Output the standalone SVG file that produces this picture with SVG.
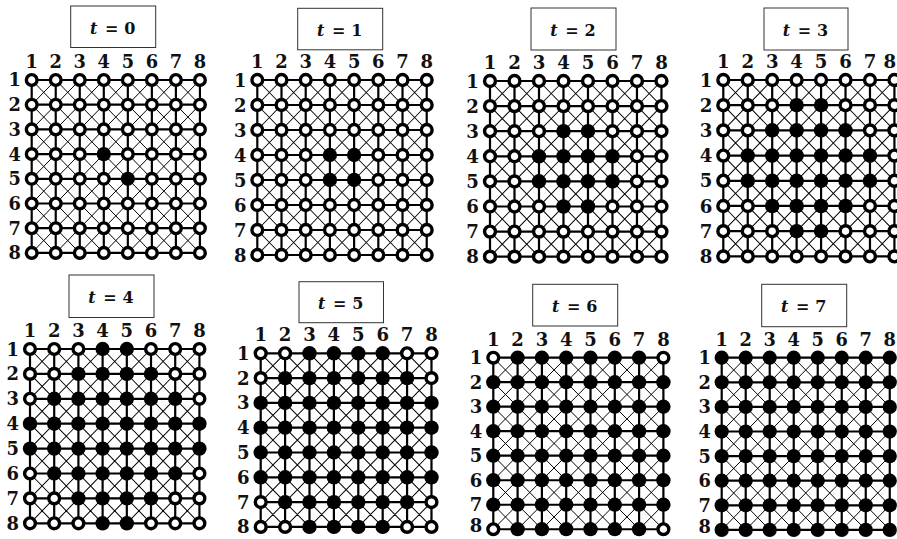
<svg xmlns="http://www.w3.org/2000/svg" width="897" height="539" viewBox="0 0 897 539">
<style>
.lbl{font-family:"DejaVu Serif","Liberation Serif",serif;font-weight:bold;font-size:18px;fill:#111}
.cl{text-anchor:middle}
.rl{text-anchor:end}
.tt{font-family:"DejaVu Serif","Liberation Serif",serif;font-weight:bold;font-size:16px;fill:#111;text-anchor:middle}
.box{fill:#fff;stroke:#333;stroke-width:1}
.thick{fill:none;stroke:#000;stroke-width:2.2}
.thin{fill:none;stroke:#000;stroke-width:1}
</style>
<defs>
<circle id="o" r="5.4" fill="#fff" stroke="#000" stroke-width="3.4"/>
<circle id="f" r="7.2" fill="#000"/>
<g id="grid">
<path class="thin" d="M0 0L170.1 173.95M24.3 0L170.1 149.1M48.6 0L170.1 124.25M72.9 0L170.1 99.4M97.2 0L170.1 74.55M121.5 0L170.1 49.7M145.8 0L170.1 24.85M0 24.85L145.8 173.95M0 49.7L121.5 173.95M0 74.55L97.2 173.95M0 99.4L72.9 173.95M0 124.25L48.6 173.95M0 149.1L24.3 173.95M24.3 0L0 24.85M48.6 0L0 49.7M72.9 0L0 74.55M97.2 0L0 99.4M121.5 0L0 124.25M145.8 0L0 149.1M170.1 0L0 173.95M170.1 24.85L24.3 173.95M170.1 49.7L48.6 173.95M170.1 74.55L72.9 173.95M170.1 99.4L97.2 173.95M170.1 124.25L121.5 173.95M170.1 149.1L145.8 173.95"/>
<path class="thick" d="M0 0H170.1M0 24.85H170.1M0 49.7H170.1M0 74.55H170.1M0 99.4H170.1M0 124.25H170.1M0 149.1H170.1M0 173.95H170.1M0 0V173.95M24.3 0V173.95M48.6 0V173.95M72.9 0V173.95M97.2 0V173.95M121.5 0V173.95M145.8 0V173.95M170.1 0V173.95"/>
</g>
</defs>
<rect width="897" height="539" fill="#fff"/>

<g id="titles">
<g id="title-t0"><rect class="box" x="70.7" y="6" width="85" height="41.5"/><text class="tt" y="33.5"><tspan x="93.7" font-style="italic">t</tspan><tspan x="111.7">=</tspan><tspan x="129.7">0</tspan></text></g>
<g id="title-t1"><rect class="box" x="297.7" y="8.3" width="85" height="41.5"/><text class="tt" y="35.8"><tspan x="320.7" font-style="italic">t</tspan><tspan x="338.7">=</tspan><tspan x="356.7">1</tspan></text></g>
<g id="title-t2"><rect class="box" x="531" y="8" width="85" height="42"/><text class="tt" y="35.8"><tspan x="554" font-style="italic">t</tspan><tspan x="572">=</tspan><tspan x="590">2</tspan></text></g>
<g id="title-t3"><rect class="box" x="764" y="8" width="84" height="42"/><text class="tt" y="35.8"><tspan x="786.5" font-style="italic">t</tspan><tspan x="804.5">=</tspan><tspan x="822.5">3</tspan></text></g>
<g id="title-t4"><rect class="box" x="69" y="275" width="85" height="42.5"/><text class="tt" y="302.8"><tspan x="92" font-style="italic">t</tspan><tspan x="110">=</tspan><tspan x="128">4</tspan></text></g>
<g id="title-t5"><rect class="box" x="299" y="281.7" width="84.5" height="41"/><text class="tt" y="309"><tspan x="321.8" font-style="italic">t</tspan><tspan x="339.8">=</tspan><tspan x="357.8">5</tspan></text></g>
<g id="title-t6"><rect class="box" x="532.7" y="284.3" width="85" height="41.7"/><text class="tt" y="311.8"><tspan x="555.7" font-style="italic">t</tspan><tspan x="573.7">=</tspan><tspan x="591.7">6</tspan></text></g>
<g id="title-t7"><rect class="box" x="761.7" y="284.3" width="85" height="42.4"/><text class="tt" y="312"><tspan x="784.7" font-style="italic">t</tspan><tspan x="802.7">=</tspan><tspan x="820.7">7</tspan></text></g>
</g>

<g id="connectors">
<use href="#grid" transform="translate(31.7 80) scale(0.989 0.994)"/>
<use href="#grid" transform="translate(257.3 80) scale(0.996 1.006)"/>
<use href="#grid" transform="translate(490 81) scale(1.008 1.01)"/>
<use href="#grid" transform="translate(723.3 80) scale(1.006 1.014)"/>
<use href="#grid" transform="translate(30 349) scale(0.996 1.002)"/>
<use href="#grid" transform="translate(260.7 353.3) scale(1.004 0.998)"/>
<use href="#grid" transform="translate(493.3 357.7) scale(1 0.986)"/>
<use href="#grid" transform="translate(721.7 357.7) scale(0.988 0.99)"/>
</g>

<g id="panel-t0" transform="translate(31.7 80) scale(0.989 0.994)">
<g transform="translate(0 0)"><g id="t0-r1c1"><use href="#o"/></g><g id="t0-r1c2"><use href="#o" x="24.3"/></g><g id="t0-r1c3"><use href="#o" x="48.6"/></g><g id="t0-r1c4"><use href="#o" x="72.9"/></g><g id="t0-r1c5"><use href="#o" x="97.2"/></g><g id="t0-r1c6"><use href="#o" x="121.5"/></g><g id="t0-r1c7"><use href="#o" x="145.8"/></g><g id="t0-r1c8"><use href="#o" x="170.1"/></g></g>
<g transform="translate(0 24.85)"><g id="t0-r2c1"><use href="#o"/></g><g id="t0-r2c2"><use href="#o" x="24.3"/></g><g id="t0-r2c3"><use href="#o" x="48.6"/></g><g id="t0-r2c4"><use href="#o" x="72.9"/></g><g id="t0-r2c5"><use href="#o" x="97.2"/></g><g id="t0-r2c6"><use href="#o" x="121.5"/></g><g id="t0-r2c7"><use href="#o" x="145.8"/></g><g id="t0-r2c8"><use href="#o" x="170.1"/></g></g>
<g transform="translate(0 49.7)"><g id="t0-r3c1"><use href="#o"/></g><g id="t0-r3c2"><use href="#o" x="24.3"/></g><g id="t0-r3c3"><use href="#o" x="48.6"/></g><g id="t0-r3c4"><use href="#o" x="72.9"/></g><g id="t0-r3c5"><use href="#o" x="97.2"/></g><g id="t0-r3c6"><use href="#o" x="121.5"/></g><g id="t0-r3c7"><use href="#o" x="145.8"/></g><g id="t0-r3c8"><use href="#o" x="170.1"/></g></g>
<g transform="translate(0 74.55)"><g id="t0-r4c1"><use href="#o"/></g><g id="t0-r4c2"><use href="#o" x="24.3"/></g><g id="t0-r4c3"><use href="#o" x="48.6"/></g><g id="t0-r4c4"><use href="#f" x="72.9"/></g><g id="t0-r4c5"><use href="#o" x="97.2"/></g><g id="t0-r4c6"><use href="#o" x="121.5"/></g><g id="t0-r4c7"><use href="#o" x="145.8"/></g><g id="t0-r4c8"><use href="#o" x="170.1"/></g></g>
<g transform="translate(0 99.4)"><g id="t0-r5c1"><use href="#o"/></g><g id="t0-r5c2"><use href="#o" x="24.3"/></g><g id="t0-r5c3"><use href="#o" x="48.6"/></g><g id="t0-r5c4"><use href="#o" x="72.9"/></g><g id="t0-r5c5"><use href="#f" x="97.2"/></g><g id="t0-r5c6"><use href="#o" x="121.5"/></g><g id="t0-r5c7"><use href="#o" x="145.8"/></g><g id="t0-r5c8"><use href="#o" x="170.1"/></g></g>
<g transform="translate(0 124.25)"><g id="t0-r6c1"><use href="#o"/></g><g id="t0-r6c2"><use href="#o" x="24.3"/></g><g id="t0-r6c3"><use href="#o" x="48.6"/></g><g id="t0-r6c4"><use href="#o" x="72.9"/></g><g id="t0-r6c5"><use href="#o" x="97.2"/></g><g id="t0-r6c6"><use href="#o" x="121.5"/></g><g id="t0-r6c7"><use href="#o" x="145.8"/></g><g id="t0-r6c8"><use href="#o" x="170.1"/></g></g>
<g transform="translate(0 149.1)"><g id="t0-r7c1"><use href="#o"/></g><g id="t0-r7c2"><use href="#o" x="24.3"/></g><g id="t0-r7c3"><use href="#o" x="48.6"/></g><g id="t0-r7c4"><use href="#o" x="72.9"/></g><g id="t0-r7c5"><use href="#o" x="97.2"/></g><g id="t0-r7c6"><use href="#o" x="121.5"/></g><g id="t0-r7c7"><use href="#o" x="145.8"/></g><g id="t0-r7c8"><use href="#o" x="170.1"/></g></g>
<g transform="translate(0 173.95)"><g id="t0-r8c1"><use href="#o"/></g><g id="t0-r8c2"><use href="#o" x="24.3"/></g><g id="t0-r8c3"><use href="#o" x="48.6"/></g><g id="t0-r8c4"><use href="#o" x="72.9"/></g><g id="t0-r8c5"><use href="#o" x="97.2"/></g><g id="t0-r8c6"><use href="#o" x="121.5"/></g><g id="t0-r8c7"><use href="#o" x="145.8"/></g><g id="t0-r8c8"><use href="#o" x="170.1"/></g></g>
<g class="lbl"><text class="cl" x="0" y="-12">1</text><text class="cl" x="24.3" y="-12">2</text><text class="cl" x="48.6" y="-12">3</text><text class="cl" x="72.9" y="-12">4</text><text class="cl" x="97.2" y="-12">5</text><text class="cl" x="121.5" y="-12">6</text><text class="cl" x="145.8" y="-12">7</text><text class="cl" x="170.1" y="-12">8</text>
<text class="rl" x="-11" y="6.5">1</text><text class="rl" x="-11" y="31.35">2</text><text class="rl" x="-11" y="56.2">3</text><text class="rl" x="-11" y="81.05">4</text><text class="rl" x="-11" y="105.9">5</text><text class="rl" x="-11" y="130.75">6</text><text class="rl" x="-11" y="155.6">7</text><text class="rl" x="-11" y="180.45">8</text></g>
</g>

<g id="panel-t1" transform="translate(257.3 80) scale(0.996 1.006)">
<g transform="translate(0 0)"><g id="t1-r1c1"><use href="#o"/></g><g id="t1-r1c2"><use href="#o" x="24.3"/></g><g id="t1-r1c3"><use href="#o" x="48.6"/></g><g id="t1-r1c4"><use href="#o" x="72.9"/></g><g id="t1-r1c5"><use href="#o" x="97.2"/></g><g id="t1-r1c6"><use href="#o" x="121.5"/></g><g id="t1-r1c7"><use href="#o" x="145.8"/></g><g id="t1-r1c8"><use href="#o" x="170.1"/></g></g>
<g transform="translate(0 24.85)"><g id="t1-r2c1"><use href="#o"/></g><g id="t1-r2c2"><use href="#o" x="24.3"/></g><g id="t1-r2c3"><use href="#o" x="48.6"/></g><g id="t1-r2c4"><use href="#o" x="72.9"/></g><g id="t1-r2c5"><use href="#o" x="97.2"/></g><g id="t1-r2c6"><use href="#o" x="121.5"/></g><g id="t1-r2c7"><use href="#o" x="145.8"/></g><g id="t1-r2c8"><use href="#o" x="170.1"/></g></g>
<g transform="translate(0 49.7)"><g id="t1-r3c1"><use href="#o"/></g><g id="t1-r3c2"><use href="#o" x="24.3"/></g><g id="t1-r3c3"><use href="#o" x="48.6"/></g><g id="t1-r3c4"><use href="#o" x="72.9"/></g><g id="t1-r3c5"><use href="#o" x="97.2"/></g><g id="t1-r3c6"><use href="#o" x="121.5"/></g><g id="t1-r3c7"><use href="#o" x="145.8"/></g><g id="t1-r3c8"><use href="#o" x="170.1"/></g></g>
<g transform="translate(0 74.55)"><g id="t1-r4c1"><use href="#o"/></g><g id="t1-r4c2"><use href="#o" x="24.3"/></g><g id="t1-r4c3"><use href="#o" x="48.6"/></g><g id="t1-r4c4"><use href="#f" x="72.9"/></g><g id="t1-r4c5"><use href="#f" x="97.2"/></g><g id="t1-r4c6"><use href="#o" x="121.5"/></g><g id="t1-r4c7"><use href="#o" x="145.8"/></g><g id="t1-r4c8"><use href="#o" x="170.1"/></g></g>
<g transform="translate(0 99.4)"><g id="t1-r5c1"><use href="#o"/></g><g id="t1-r5c2"><use href="#o" x="24.3"/></g><g id="t1-r5c3"><use href="#o" x="48.6"/></g><g id="t1-r5c4"><use href="#f" x="72.9"/></g><g id="t1-r5c5"><use href="#f" x="97.2"/></g><g id="t1-r5c6"><use href="#o" x="121.5"/></g><g id="t1-r5c7"><use href="#o" x="145.8"/></g><g id="t1-r5c8"><use href="#o" x="170.1"/></g></g>
<g transform="translate(0 124.25)"><g id="t1-r6c1"><use href="#o"/></g><g id="t1-r6c2"><use href="#o" x="24.3"/></g><g id="t1-r6c3"><use href="#o" x="48.6"/></g><g id="t1-r6c4"><use href="#o" x="72.9"/></g><g id="t1-r6c5"><use href="#o" x="97.2"/></g><g id="t1-r6c6"><use href="#o" x="121.5"/></g><g id="t1-r6c7"><use href="#o" x="145.8"/></g><g id="t1-r6c8"><use href="#o" x="170.1"/></g></g>
<g transform="translate(0 149.1)"><g id="t1-r7c1"><use href="#o"/></g><g id="t1-r7c2"><use href="#o" x="24.3"/></g><g id="t1-r7c3"><use href="#o" x="48.6"/></g><g id="t1-r7c4"><use href="#o" x="72.9"/></g><g id="t1-r7c5"><use href="#o" x="97.2"/></g><g id="t1-r7c6"><use href="#o" x="121.5"/></g><g id="t1-r7c7"><use href="#o" x="145.8"/></g><g id="t1-r7c8"><use href="#o" x="170.1"/></g></g>
<g transform="translate(0 173.95)"><g id="t1-r8c1"><use href="#o"/></g><g id="t1-r8c2"><use href="#o" x="24.3"/></g><g id="t1-r8c3"><use href="#o" x="48.6"/></g><g id="t1-r8c4"><use href="#o" x="72.9"/></g><g id="t1-r8c5"><use href="#o" x="97.2"/></g><g id="t1-r8c6"><use href="#o" x="121.5"/></g><g id="t1-r8c7"><use href="#o" x="145.8"/></g><g id="t1-r8c8"><use href="#o" x="170.1"/></g></g>
<g class="lbl"><text class="cl" x="0" y="-12">1</text><text class="cl" x="24.3" y="-12">2</text><text class="cl" x="48.6" y="-12">3</text><text class="cl" x="72.9" y="-12">4</text><text class="cl" x="97.2" y="-12">5</text><text class="cl" x="121.5" y="-12">6</text><text class="cl" x="145.8" y="-12">7</text><text class="cl" x="170.1" y="-12">8</text>
<text class="rl" x="-11" y="6.5">1</text><text class="rl" x="-11" y="31.35">2</text><text class="rl" x="-11" y="56.2">3</text><text class="rl" x="-11" y="81.05">4</text><text class="rl" x="-11" y="105.9">5</text><text class="rl" x="-11" y="130.75">6</text><text class="rl" x="-11" y="155.6">7</text><text class="rl" x="-11" y="180.45">8</text></g>
</g>

<g id="panel-t2" transform="translate(490 81) scale(1.008 1.01)">
<g transform="translate(0 0)"><g id="t2-r1c1"><use href="#o"/></g><g id="t2-r1c2"><use href="#o" x="24.3"/></g><g id="t2-r1c3"><use href="#o" x="48.6"/></g><g id="t2-r1c4"><use href="#o" x="72.9"/></g><g id="t2-r1c5"><use href="#o" x="97.2"/></g><g id="t2-r1c6"><use href="#o" x="121.5"/></g><g id="t2-r1c7"><use href="#o" x="145.8"/></g><g id="t2-r1c8"><use href="#o" x="170.1"/></g></g>
<g transform="translate(0 24.85)"><g id="t2-r2c1"><use href="#o"/></g><g id="t2-r2c2"><use href="#o" x="24.3"/></g><g id="t2-r2c3"><use href="#o" x="48.6"/></g><g id="t2-r2c4"><use href="#o" x="72.9"/></g><g id="t2-r2c5"><use href="#o" x="97.2"/></g><g id="t2-r2c6"><use href="#o" x="121.5"/></g><g id="t2-r2c7"><use href="#o" x="145.8"/></g><g id="t2-r2c8"><use href="#o" x="170.1"/></g></g>
<g transform="translate(0 49.7)"><g id="t2-r3c1"><use href="#o"/></g><g id="t2-r3c2"><use href="#o" x="24.3"/></g><g id="t2-r3c3"><use href="#o" x="48.6"/></g><g id="t2-r3c4"><use href="#f" x="72.9"/></g><g id="t2-r3c5"><use href="#f" x="97.2"/></g><g id="t2-r3c6"><use href="#o" x="121.5"/></g><g id="t2-r3c7"><use href="#o" x="145.8"/></g><g id="t2-r3c8"><use href="#o" x="170.1"/></g></g>
<g transform="translate(0 74.55)"><g id="t2-r4c1"><use href="#o"/></g><g id="t2-r4c2"><use href="#o" x="24.3"/></g><g id="t2-r4c3"><use href="#f" x="48.6"/></g><g id="t2-r4c4"><use href="#f" x="72.9"/></g><g id="t2-r4c5"><use href="#f" x="97.2"/></g><g id="t2-r4c6"><use href="#f" x="121.5"/></g><g id="t2-r4c7"><use href="#o" x="145.8"/></g><g id="t2-r4c8"><use href="#o" x="170.1"/></g></g>
<g transform="translate(0 99.4)"><g id="t2-r5c1"><use href="#o"/></g><g id="t2-r5c2"><use href="#o" x="24.3"/></g><g id="t2-r5c3"><use href="#f" x="48.6"/></g><g id="t2-r5c4"><use href="#f" x="72.9"/></g><g id="t2-r5c5"><use href="#f" x="97.2"/></g><g id="t2-r5c6"><use href="#f" x="121.5"/></g><g id="t2-r5c7"><use href="#o" x="145.8"/></g><g id="t2-r5c8"><use href="#o" x="170.1"/></g></g>
<g transform="translate(0 124.25)"><g id="t2-r6c1"><use href="#o"/></g><g id="t2-r6c2"><use href="#o" x="24.3"/></g><g id="t2-r6c3"><use href="#o" x="48.6"/></g><g id="t2-r6c4"><use href="#f" x="72.9"/></g><g id="t2-r6c5"><use href="#f" x="97.2"/></g><g id="t2-r6c6"><use href="#o" x="121.5"/></g><g id="t2-r6c7"><use href="#o" x="145.8"/></g><g id="t2-r6c8"><use href="#o" x="170.1"/></g></g>
<g transform="translate(0 149.1)"><g id="t2-r7c1"><use href="#o"/></g><g id="t2-r7c2"><use href="#o" x="24.3"/></g><g id="t2-r7c3"><use href="#o" x="48.6"/></g><g id="t2-r7c4"><use href="#o" x="72.9"/></g><g id="t2-r7c5"><use href="#o" x="97.2"/></g><g id="t2-r7c6"><use href="#o" x="121.5"/></g><g id="t2-r7c7"><use href="#o" x="145.8"/></g><g id="t2-r7c8"><use href="#o" x="170.1"/></g></g>
<g transform="translate(0 173.95)"><g id="t2-r8c1"><use href="#o"/></g><g id="t2-r8c2"><use href="#o" x="24.3"/></g><g id="t2-r8c3"><use href="#o" x="48.6"/></g><g id="t2-r8c4"><use href="#o" x="72.9"/></g><g id="t2-r8c5"><use href="#o" x="97.2"/></g><g id="t2-r8c6"><use href="#o" x="121.5"/></g><g id="t2-r8c7"><use href="#o" x="145.8"/></g><g id="t2-r8c8"><use href="#o" x="170.1"/></g></g>
<g class="lbl"><text class="cl" x="0" y="-12">1</text><text class="cl" x="24.3" y="-12">2</text><text class="cl" x="48.6" y="-12">3</text><text class="cl" x="72.9" y="-12">4</text><text class="cl" x="97.2" y="-12">5</text><text class="cl" x="121.5" y="-12">6</text><text class="cl" x="145.8" y="-12">7</text><text class="cl" x="170.1" y="-12">8</text>
<text class="rl" x="-11" y="6.5">1</text><text class="rl" x="-11" y="31.35">2</text><text class="rl" x="-11" y="56.2">3</text><text class="rl" x="-11" y="81.05">4</text><text class="rl" x="-11" y="105.9">5</text><text class="rl" x="-11" y="130.75">6</text><text class="rl" x="-11" y="155.6">7</text><text class="rl" x="-11" y="180.45">8</text></g>
</g>

<g id="panel-t3" transform="translate(723.3 80) scale(1.006 1.014)">
<g transform="translate(0 0)"><g id="t3-r1c1"><use href="#o"/></g><g id="t3-r1c2"><use href="#o" x="24.3"/></g><g id="t3-r1c3"><use href="#o" x="48.6"/></g><g id="t3-r1c4"><use href="#o" x="72.9"/></g><g id="t3-r1c5"><use href="#o" x="97.2"/></g><g id="t3-r1c6"><use href="#o" x="121.5"/></g><g id="t3-r1c7"><use href="#o" x="145.8"/></g><g id="t3-r1c8"><use href="#o" x="170.1"/></g></g>
<g transform="translate(0 24.85)"><g id="t3-r2c1"><use href="#o"/></g><g id="t3-r2c2"><use href="#o" x="24.3"/></g><g id="t3-r2c3"><use href="#o" x="48.6"/></g><g id="t3-r2c4"><use href="#f" x="72.9"/></g><g id="t3-r2c5"><use href="#f" x="97.2"/></g><g id="t3-r2c6"><use href="#o" x="121.5"/></g><g id="t3-r2c7"><use href="#o" x="145.8"/></g><g id="t3-r2c8"><use href="#o" x="170.1"/></g></g>
<g transform="translate(0 49.7)"><g id="t3-r3c1"><use href="#o"/></g><g id="t3-r3c2"><use href="#o" x="24.3"/></g><g id="t3-r3c3"><use href="#f" x="48.6"/></g><g id="t3-r3c4"><use href="#f" x="72.9"/></g><g id="t3-r3c5"><use href="#f" x="97.2"/></g><g id="t3-r3c6"><use href="#f" x="121.5"/></g><g id="t3-r3c7"><use href="#o" x="145.8"/></g><g id="t3-r3c8"><use href="#o" x="170.1"/></g></g>
<g transform="translate(0 74.55)"><g id="t3-r4c1"><use href="#o"/></g><g id="t3-r4c2"><use href="#f" x="24.3"/></g><g id="t3-r4c3"><use href="#f" x="48.6"/></g><g id="t3-r4c4"><use href="#f" x="72.9"/></g><g id="t3-r4c5"><use href="#f" x="97.2"/></g><g id="t3-r4c6"><use href="#f" x="121.5"/></g><g id="t3-r4c7"><use href="#f" x="145.8"/></g><g id="t3-r4c8"><use href="#o" x="170.1"/></g></g>
<g transform="translate(0 99.4)"><g id="t3-r5c1"><use href="#o"/></g><g id="t3-r5c2"><use href="#f" x="24.3"/></g><g id="t3-r5c3"><use href="#f" x="48.6"/></g><g id="t3-r5c4"><use href="#f" x="72.9"/></g><g id="t3-r5c5"><use href="#f" x="97.2"/></g><g id="t3-r5c6"><use href="#f" x="121.5"/></g><g id="t3-r5c7"><use href="#f" x="145.8"/></g><g id="t3-r5c8"><use href="#o" x="170.1"/></g></g>
<g transform="translate(0 124.25)"><g id="t3-r6c1"><use href="#o"/></g><g id="t3-r6c2"><use href="#o" x="24.3"/></g><g id="t3-r6c3"><use href="#f" x="48.6"/></g><g id="t3-r6c4"><use href="#f" x="72.9"/></g><g id="t3-r6c5"><use href="#f" x="97.2"/></g><g id="t3-r6c6"><use href="#f" x="121.5"/></g><g id="t3-r6c7"><use href="#o" x="145.8"/></g><g id="t3-r6c8"><use href="#o" x="170.1"/></g></g>
<g transform="translate(0 149.1)"><g id="t3-r7c1"><use href="#o"/></g><g id="t3-r7c2"><use href="#o" x="24.3"/></g><g id="t3-r7c3"><use href="#o" x="48.6"/></g><g id="t3-r7c4"><use href="#f" x="72.9"/></g><g id="t3-r7c5"><use href="#f" x="97.2"/></g><g id="t3-r7c6"><use href="#o" x="121.5"/></g><g id="t3-r7c7"><use href="#o" x="145.8"/></g><g id="t3-r7c8"><use href="#o" x="170.1"/></g></g>
<g transform="translate(0 173.95)"><g id="t3-r8c1"><use href="#o"/></g><g id="t3-r8c2"><use href="#o" x="24.3"/></g><g id="t3-r8c3"><use href="#o" x="48.6"/></g><g id="t3-r8c4"><use href="#o" x="72.9"/></g><g id="t3-r8c5"><use href="#o" x="97.2"/></g><g id="t3-r8c6"><use href="#o" x="121.5"/></g><g id="t3-r8c7"><use href="#o" x="145.8"/></g><g id="t3-r8c8"><use href="#o" x="170.1"/></g></g>
<g class="lbl"><text class="cl" x="0" y="-12">1</text><text class="cl" x="24.3" y="-12">2</text><text class="cl" x="48.6" y="-12">3</text><text class="cl" x="72.9" y="-12">4</text><text class="cl" x="97.2" y="-12">5</text><text class="cl" x="121.5" y="-12">6</text><text class="cl" x="145.8" y="-12">7</text><text class="cl" x="165.5" y="-12">8</text>
<text class="rl" x="-11" y="6.5">1</text><text class="rl" x="-11" y="31.35">2</text><text class="rl" x="-11" y="56.2">3</text><text class="rl" x="-11" y="81.05">4</text><text class="rl" x="-11" y="105.9">5</text><text class="rl" x="-11" y="130.75">6</text><text class="rl" x="-11" y="155.6">7</text><text class="rl" x="-11" y="180.45">8</text></g>
</g>

<g id="panel-t4" transform="translate(30 349) scale(0.996 1.002)">
<g transform="translate(0 0)"><g id="t4-r1c1"><use href="#o"/></g><g id="t4-r1c2"><use href="#o" x="24.3"/></g><g id="t4-r1c3"><use href="#o" x="48.6"/></g><g id="t4-r1c4"><use href="#f" x="72.9"/></g><g id="t4-r1c5"><use href="#f" x="97.2"/></g><g id="t4-r1c6"><use href="#o" x="121.5"/></g><g id="t4-r1c7"><use href="#o" x="145.8"/></g><g id="t4-r1c8"><use href="#o" x="170.1"/></g></g>
<g transform="translate(0 24.85)"><g id="t4-r2c1"><use href="#o"/></g><g id="t4-r2c2"><use href="#o" x="24.3"/></g><g id="t4-r2c3"><use href="#f" x="48.6"/></g><g id="t4-r2c4"><use href="#f" x="72.9"/></g><g id="t4-r2c5"><use href="#f" x="97.2"/></g><g id="t4-r2c6"><use href="#f" x="121.5"/></g><g id="t4-r2c7"><use href="#o" x="145.8"/></g><g id="t4-r2c8"><use href="#o" x="170.1"/></g></g>
<g transform="translate(0 49.7)"><g id="t4-r3c1"><use href="#o"/></g><g id="t4-r3c2"><use href="#f" x="24.3"/></g><g id="t4-r3c3"><use href="#f" x="48.6"/></g><g id="t4-r3c4"><use href="#f" x="72.9"/></g><g id="t4-r3c5"><use href="#f" x="97.2"/></g><g id="t4-r3c6"><use href="#f" x="121.5"/></g><g id="t4-r3c7"><use href="#f" x="145.8"/></g><g id="t4-r3c8"><use href="#o" x="170.1"/></g></g>
<g transform="translate(0 74.55)"><g id="t4-r4c1"><use href="#f"/></g><g id="t4-r4c2"><use href="#f" x="24.3"/></g><g id="t4-r4c3"><use href="#f" x="48.6"/></g><g id="t4-r4c4"><use href="#f" x="72.9"/></g><g id="t4-r4c5"><use href="#f" x="97.2"/></g><g id="t4-r4c6"><use href="#f" x="121.5"/></g><g id="t4-r4c7"><use href="#f" x="145.8"/></g><g id="t4-r4c8"><use href="#f" x="170.1"/></g></g>
<g transform="translate(0 99.4)"><g id="t4-r5c1"><use href="#f"/></g><g id="t4-r5c2"><use href="#f" x="24.3"/></g><g id="t4-r5c3"><use href="#f" x="48.6"/></g><g id="t4-r5c4"><use href="#f" x="72.9"/></g><g id="t4-r5c5"><use href="#f" x="97.2"/></g><g id="t4-r5c6"><use href="#f" x="121.5"/></g><g id="t4-r5c7"><use href="#f" x="145.8"/></g><g id="t4-r5c8"><use href="#f" x="170.1"/></g></g>
<g transform="translate(0 124.25)"><g id="t4-r6c1"><use href="#o"/></g><g id="t4-r6c2"><use href="#f" x="24.3"/></g><g id="t4-r6c3"><use href="#f" x="48.6"/></g><g id="t4-r6c4"><use href="#f" x="72.9"/></g><g id="t4-r6c5"><use href="#f" x="97.2"/></g><g id="t4-r6c6"><use href="#f" x="121.5"/></g><g id="t4-r6c7"><use href="#f" x="145.8"/></g><g id="t4-r6c8"><use href="#o" x="170.1"/></g></g>
<g transform="translate(0 149.1)"><g id="t4-r7c1"><use href="#o"/></g><g id="t4-r7c2"><use href="#o" x="24.3"/></g><g id="t4-r7c3"><use href="#f" x="48.6"/></g><g id="t4-r7c4"><use href="#f" x="72.9"/></g><g id="t4-r7c5"><use href="#f" x="97.2"/></g><g id="t4-r7c6"><use href="#f" x="121.5"/></g><g id="t4-r7c7"><use href="#o" x="145.8"/></g><g id="t4-r7c8"><use href="#o" x="170.1"/></g></g>
<g transform="translate(0 173.95)"><g id="t4-r8c1"><use href="#o"/></g><g id="t4-r8c2"><use href="#o" x="24.3"/></g><g id="t4-r8c3"><use href="#o" x="48.6"/></g><g id="t4-r8c4"><use href="#f" x="72.9"/></g><g id="t4-r8c5"><use href="#f" x="97.2"/></g><g id="t4-r8c6"><use href="#o" x="121.5"/></g><g id="t4-r8c7"><use href="#o" x="145.8"/></g><g id="t4-r8c8"><use href="#o" x="170.1"/></g></g>
<g class="lbl"><text class="cl" x="0" y="-12">1</text><text class="cl" x="24.3" y="-12">2</text><text class="cl" x="48.6" y="-12">3</text><text class="cl" x="72.9" y="-12">4</text><text class="cl" x="97.2" y="-12">5</text><text class="cl" x="121.5" y="-12">6</text><text class="cl" x="145.8" y="-12">7</text><text class="cl" x="170.1" y="-12">8</text>
<text class="rl" x="-11" y="6.5">1</text><text class="rl" x="-11" y="31.35">2</text><text class="rl" x="-11" y="56.2">3</text><text class="rl" x="-11" y="81.05">4</text><text class="rl" x="-11" y="105.9">5</text><text class="rl" x="-11" y="130.75">6</text><text class="rl" x="-11" y="155.6">7</text><text class="rl" x="-11" y="180.45">8</text></g>
</g>

<g id="panel-t5" transform="translate(260.7 353.3) scale(1.004 0.998)">
<g transform="translate(0 0)"><g id="t5-r1c1"><use href="#o"/></g><g id="t5-r1c2"><use href="#o" x="24.3"/></g><g id="t5-r1c3"><use href="#f" x="48.6"/></g><g id="t5-r1c4"><use href="#f" x="72.9"/></g><g id="t5-r1c5"><use href="#f" x="97.2"/></g><g id="t5-r1c6"><use href="#f" x="121.5"/></g><g id="t5-r1c7"><use href="#o" x="145.8"/></g><g id="t5-r1c8"><use href="#o" x="170.1"/></g></g>
<g transform="translate(0 24.85)"><g id="t5-r2c1"><use href="#o"/></g><g id="t5-r2c2"><use href="#f" x="24.3"/></g><g id="t5-r2c3"><use href="#f" x="48.6"/></g><g id="t5-r2c4"><use href="#f" x="72.9"/></g><g id="t5-r2c5"><use href="#f" x="97.2"/></g><g id="t5-r2c6"><use href="#f" x="121.5"/></g><g id="t5-r2c7"><use href="#f" x="145.8"/></g><g id="t5-r2c8"><use href="#o" x="170.1"/></g></g>
<g transform="translate(0 49.7)"><g id="t5-r3c1"><use href="#f"/></g><g id="t5-r3c2"><use href="#f" x="24.3"/></g><g id="t5-r3c3"><use href="#f" x="48.6"/></g><g id="t5-r3c4"><use href="#f" x="72.9"/></g><g id="t5-r3c5"><use href="#f" x="97.2"/></g><g id="t5-r3c6"><use href="#f" x="121.5"/></g><g id="t5-r3c7"><use href="#f" x="145.8"/></g><g id="t5-r3c8"><use href="#f" x="170.1"/></g></g>
<g transform="translate(0 74.55)"><g id="t5-r4c1"><use href="#f"/></g><g id="t5-r4c2"><use href="#f" x="24.3"/></g><g id="t5-r4c3"><use href="#f" x="48.6"/></g><g id="t5-r4c4"><use href="#f" x="72.9"/></g><g id="t5-r4c5"><use href="#f" x="97.2"/></g><g id="t5-r4c6"><use href="#f" x="121.5"/></g><g id="t5-r4c7"><use href="#f" x="145.8"/></g><g id="t5-r4c8"><use href="#f" x="170.1"/></g></g>
<g transform="translate(0 99.4)"><g id="t5-r5c1"><use href="#f"/></g><g id="t5-r5c2"><use href="#f" x="24.3"/></g><g id="t5-r5c3"><use href="#f" x="48.6"/></g><g id="t5-r5c4"><use href="#f" x="72.9"/></g><g id="t5-r5c5"><use href="#f" x="97.2"/></g><g id="t5-r5c6"><use href="#f" x="121.5"/></g><g id="t5-r5c7"><use href="#f" x="145.8"/></g><g id="t5-r5c8"><use href="#f" x="170.1"/></g></g>
<g transform="translate(0 124.25)"><g id="t5-r6c1"><use href="#f"/></g><g id="t5-r6c2"><use href="#f" x="24.3"/></g><g id="t5-r6c3"><use href="#f" x="48.6"/></g><g id="t5-r6c4"><use href="#f" x="72.9"/></g><g id="t5-r6c5"><use href="#f" x="97.2"/></g><g id="t5-r6c6"><use href="#f" x="121.5"/></g><g id="t5-r6c7"><use href="#f" x="145.8"/></g><g id="t5-r6c8"><use href="#f" x="170.1"/></g></g>
<g transform="translate(0 149.1)"><g id="t5-r7c1"><use href="#o"/></g><g id="t5-r7c2"><use href="#f" x="24.3"/></g><g id="t5-r7c3"><use href="#f" x="48.6"/></g><g id="t5-r7c4"><use href="#f" x="72.9"/></g><g id="t5-r7c5"><use href="#f" x="97.2"/></g><g id="t5-r7c6"><use href="#f" x="121.5"/></g><g id="t5-r7c7"><use href="#f" x="145.8"/></g><g id="t5-r7c8"><use href="#o" x="170.1"/></g></g>
<g transform="translate(0 173.95)"><g id="t5-r8c1"><use href="#o"/></g><g id="t5-r8c2"><use href="#o" x="24.3"/></g><g id="t5-r8c3"><use href="#f" x="48.6"/></g><g id="t5-r8c4"><use href="#f" x="72.9"/></g><g id="t5-r8c5"><use href="#f" x="97.2"/></g><g id="t5-r8c6"><use href="#f" x="121.5"/></g><g id="t5-r8c7"><use href="#o" x="145.8"/></g><g id="t5-r8c8"><use href="#o" x="170.1"/></g></g>
<g class="lbl"><text class="cl" x="0" y="-12">1</text><text class="cl" x="24.3" y="-12">2</text><text class="cl" x="48.6" y="-12">3</text><text class="cl" x="72.9" y="-12">4</text><text class="cl" x="97.2" y="-12">5</text><text class="cl" x="121.5" y="-12">6</text><text class="cl" x="145.8" y="-12">7</text><text class="cl" x="170.1" y="-12">8</text>
<text class="rl" x="-11" y="6.5">1</text><text class="rl" x="-11" y="31.35">2</text><text class="rl" x="-11" y="56.2">3</text><text class="rl" x="-11" y="81.05">4</text><text class="rl" x="-11" y="105.9">5</text><text class="rl" x="-11" y="130.75">6</text><text class="rl" x="-11" y="155.6">7</text><text class="rl" x="-11" y="180.45">8</text></g>
</g>

<g id="panel-t6" transform="translate(493.3 357.7) scale(1 0.986)">
<g transform="translate(0 0)"><g id="t6-r1c1"><use href="#o"/></g><g id="t6-r1c2"><use href="#f" x="24.3"/></g><g id="t6-r1c3"><use href="#f" x="48.6"/></g><g id="t6-r1c4"><use href="#f" x="72.9"/></g><g id="t6-r1c5"><use href="#f" x="97.2"/></g><g id="t6-r1c6"><use href="#f" x="121.5"/></g><g id="t6-r1c7"><use href="#f" x="145.8"/></g><g id="t6-r1c8"><use href="#o" x="170.1"/></g></g>
<g transform="translate(0 24.85)"><g id="t6-r2c1"><use href="#f"/></g><g id="t6-r2c2"><use href="#f" x="24.3"/></g><g id="t6-r2c3"><use href="#f" x="48.6"/></g><g id="t6-r2c4"><use href="#f" x="72.9"/></g><g id="t6-r2c5"><use href="#f" x="97.2"/></g><g id="t6-r2c6"><use href="#f" x="121.5"/></g><g id="t6-r2c7"><use href="#f" x="145.8"/></g><g id="t6-r2c8"><use href="#f" x="170.1"/></g></g>
<g transform="translate(0 49.7)"><g id="t6-r3c1"><use href="#f"/></g><g id="t6-r3c2"><use href="#f" x="24.3"/></g><g id="t6-r3c3"><use href="#f" x="48.6"/></g><g id="t6-r3c4"><use href="#f" x="72.9"/></g><g id="t6-r3c5"><use href="#f" x="97.2"/></g><g id="t6-r3c6"><use href="#f" x="121.5"/></g><g id="t6-r3c7"><use href="#f" x="145.8"/></g><g id="t6-r3c8"><use href="#f" x="170.1"/></g></g>
<g transform="translate(0 74.55)"><g id="t6-r4c1"><use href="#f"/></g><g id="t6-r4c2"><use href="#f" x="24.3"/></g><g id="t6-r4c3"><use href="#f" x="48.6"/></g><g id="t6-r4c4"><use href="#f" x="72.9"/></g><g id="t6-r4c5"><use href="#f" x="97.2"/></g><g id="t6-r4c6"><use href="#f" x="121.5"/></g><g id="t6-r4c7"><use href="#f" x="145.8"/></g><g id="t6-r4c8"><use href="#f" x="170.1"/></g></g>
<g transform="translate(0 99.4)"><g id="t6-r5c1"><use href="#f"/></g><g id="t6-r5c2"><use href="#f" x="24.3"/></g><g id="t6-r5c3"><use href="#f" x="48.6"/></g><g id="t6-r5c4"><use href="#f" x="72.9"/></g><g id="t6-r5c5"><use href="#f" x="97.2"/></g><g id="t6-r5c6"><use href="#f" x="121.5"/></g><g id="t6-r5c7"><use href="#f" x="145.8"/></g><g id="t6-r5c8"><use href="#f" x="170.1"/></g></g>
<g transform="translate(0 124.25)"><g id="t6-r6c1"><use href="#f"/></g><g id="t6-r6c2"><use href="#f" x="24.3"/></g><g id="t6-r6c3"><use href="#f" x="48.6"/></g><g id="t6-r6c4"><use href="#f" x="72.9"/></g><g id="t6-r6c5"><use href="#f" x="97.2"/></g><g id="t6-r6c6"><use href="#f" x="121.5"/></g><g id="t6-r6c7"><use href="#f" x="145.8"/></g><g id="t6-r6c8"><use href="#f" x="170.1"/></g></g>
<g transform="translate(0 149.1)"><g id="t6-r7c1"><use href="#f"/></g><g id="t6-r7c2"><use href="#f" x="24.3"/></g><g id="t6-r7c3"><use href="#f" x="48.6"/></g><g id="t6-r7c4"><use href="#f" x="72.9"/></g><g id="t6-r7c5"><use href="#f" x="97.2"/></g><g id="t6-r7c6"><use href="#f" x="121.5"/></g><g id="t6-r7c7"><use href="#f" x="145.8"/></g><g id="t6-r7c8"><use href="#f" x="170.1"/></g></g>
<g transform="translate(0 173.95)"><g id="t6-r8c1"><use href="#o"/></g><g id="t6-r8c2"><use href="#f" x="24.3"/></g><g id="t6-r8c3"><use href="#f" x="48.6"/></g><g id="t6-r8c4"><use href="#f" x="72.9"/></g><g id="t6-r8c5"><use href="#f" x="97.2"/></g><g id="t6-r8c6"><use href="#f" x="121.5"/></g><g id="t6-r8c7"><use href="#f" x="145.8"/></g><g id="t6-r8c8"><use href="#o" x="170.1"/></g></g>
<g class="lbl"><text class="cl" x="0" y="-12">1</text><text class="cl" x="24.3" y="-12">2</text><text class="cl" x="48.6" y="-12">3</text><text class="cl" x="72.9" y="-12">4</text><text class="cl" x="97.2" y="-12">5</text><text class="cl" x="121.5" y="-12">6</text><text class="cl" x="145.8" y="-12">7</text><text class="cl" x="170.1" y="-12">8</text>
<text class="rl" x="-11" y="6.5">1</text><text class="rl" x="-11" y="31.35">2</text><text class="rl" x="-11" y="56.2">3</text><text class="rl" x="-11" y="81.05">4</text><text class="rl" x="-11" y="105.9">5</text><text class="rl" x="-11" y="130.75">6</text><text class="rl" x="-11" y="155.6">7</text><text class="rl" x="-11" y="177">8</text></g>
</g>

<g id="panel-t7" transform="translate(721.7 357.7) scale(0.988 0.99)">
<g transform="translate(0 0)"><g id="t7-r1c1"><use href="#f"/></g><g id="t7-r1c2"><use href="#f" x="24.3"/></g><g id="t7-r1c3"><use href="#f" x="48.6"/></g><g id="t7-r1c4"><use href="#f" x="72.9"/></g><g id="t7-r1c5"><use href="#f" x="97.2"/></g><g id="t7-r1c6"><use href="#f" x="121.5"/></g><g id="t7-r1c7"><use href="#f" x="145.8"/></g><g id="t7-r1c8"><use href="#f" x="170.1"/></g></g>
<g transform="translate(0 24.85)"><g id="t7-r2c1"><use href="#f"/></g><g id="t7-r2c2"><use href="#f" x="24.3"/></g><g id="t7-r2c3"><use href="#f" x="48.6"/></g><g id="t7-r2c4"><use href="#f" x="72.9"/></g><g id="t7-r2c5"><use href="#f" x="97.2"/></g><g id="t7-r2c6"><use href="#f" x="121.5"/></g><g id="t7-r2c7"><use href="#f" x="145.8"/></g><g id="t7-r2c8"><use href="#f" x="170.1"/></g></g>
<g transform="translate(0 49.7)"><g id="t7-r3c1"><use href="#f"/></g><g id="t7-r3c2"><use href="#f" x="24.3"/></g><g id="t7-r3c3"><use href="#f" x="48.6"/></g><g id="t7-r3c4"><use href="#f" x="72.9"/></g><g id="t7-r3c5"><use href="#f" x="97.2"/></g><g id="t7-r3c6"><use href="#f" x="121.5"/></g><g id="t7-r3c7"><use href="#f" x="145.8"/></g><g id="t7-r3c8"><use href="#f" x="170.1"/></g></g>
<g transform="translate(0 74.55)"><g id="t7-r4c1"><use href="#f"/></g><g id="t7-r4c2"><use href="#f" x="24.3"/></g><g id="t7-r4c3"><use href="#f" x="48.6"/></g><g id="t7-r4c4"><use href="#f" x="72.9"/></g><g id="t7-r4c5"><use href="#f" x="97.2"/></g><g id="t7-r4c6"><use href="#f" x="121.5"/></g><g id="t7-r4c7"><use href="#f" x="145.8"/></g><g id="t7-r4c8"><use href="#f" x="170.1"/></g></g>
<g transform="translate(0 99.4)"><g id="t7-r5c1"><use href="#f"/></g><g id="t7-r5c2"><use href="#f" x="24.3"/></g><g id="t7-r5c3"><use href="#f" x="48.6"/></g><g id="t7-r5c4"><use href="#f" x="72.9"/></g><g id="t7-r5c5"><use href="#f" x="97.2"/></g><g id="t7-r5c6"><use href="#f" x="121.5"/></g><g id="t7-r5c7"><use href="#f" x="145.8"/></g><g id="t7-r5c8"><use href="#f" x="170.1"/></g></g>
<g transform="translate(0 124.25)"><g id="t7-r6c1"><use href="#f"/></g><g id="t7-r6c2"><use href="#f" x="24.3"/></g><g id="t7-r6c3"><use href="#f" x="48.6"/></g><g id="t7-r6c4"><use href="#f" x="72.9"/></g><g id="t7-r6c5"><use href="#f" x="97.2"/></g><g id="t7-r6c6"><use href="#f" x="121.5"/></g><g id="t7-r6c7"><use href="#f" x="145.8"/></g><g id="t7-r6c8"><use href="#f" x="170.1"/></g></g>
<g transform="translate(0 149.1)"><g id="t7-r7c1"><use href="#f"/></g><g id="t7-r7c2"><use href="#f" x="24.3"/></g><g id="t7-r7c3"><use href="#f" x="48.6"/></g><g id="t7-r7c4"><use href="#f" x="72.9"/></g><g id="t7-r7c5"><use href="#f" x="97.2"/></g><g id="t7-r7c6"><use href="#f" x="121.5"/></g><g id="t7-r7c7"><use href="#f" x="145.8"/></g><g id="t7-r7c8"><use href="#f" x="170.1"/></g></g>
<g transform="translate(0 173.95)"><g id="t7-r8c1"><use href="#f"/></g><g id="t7-r8c2"><use href="#f" x="24.3"/></g><g id="t7-r8c3"><use href="#f" x="48.6"/></g><g id="t7-r8c4"><use href="#f" x="72.9"/></g><g id="t7-r8c5"><use href="#f" x="97.2"/></g><g id="t7-r8c6"><use href="#f" x="121.5"/></g><g id="t7-r8c7"><use href="#f" x="145.8"/></g><g id="t7-r8c8"><use href="#f" x="170.1"/></g></g>
<g class="lbl"><text class="cl" x="0" y="-12">1</text><text class="cl" x="24.3" y="-12">2</text><text class="cl" x="48.6" y="-12">3</text><text class="cl" x="72.9" y="-12">4</text><text class="cl" x="97.2" y="-12">5</text><text class="cl" x="121.5" y="-12">6</text><text class="cl" x="145.8" y="-12">7</text><text class="cl" x="170.1" y="-12">8</text>
<text class="rl" x="-11" y="6.5">1</text><text class="rl" x="-11" y="31.35">2</text><text class="rl" x="-11" y="56.2">3</text><text class="rl" x="-11" y="81.05">4</text><text class="rl" x="-11" y="105.9">5</text><text class="rl" x="-11" y="130.75">6</text><text class="rl" x="-11" y="155.6">7</text><text class="rl" x="-11" y="177">8</text></g>
</g>
</svg>
